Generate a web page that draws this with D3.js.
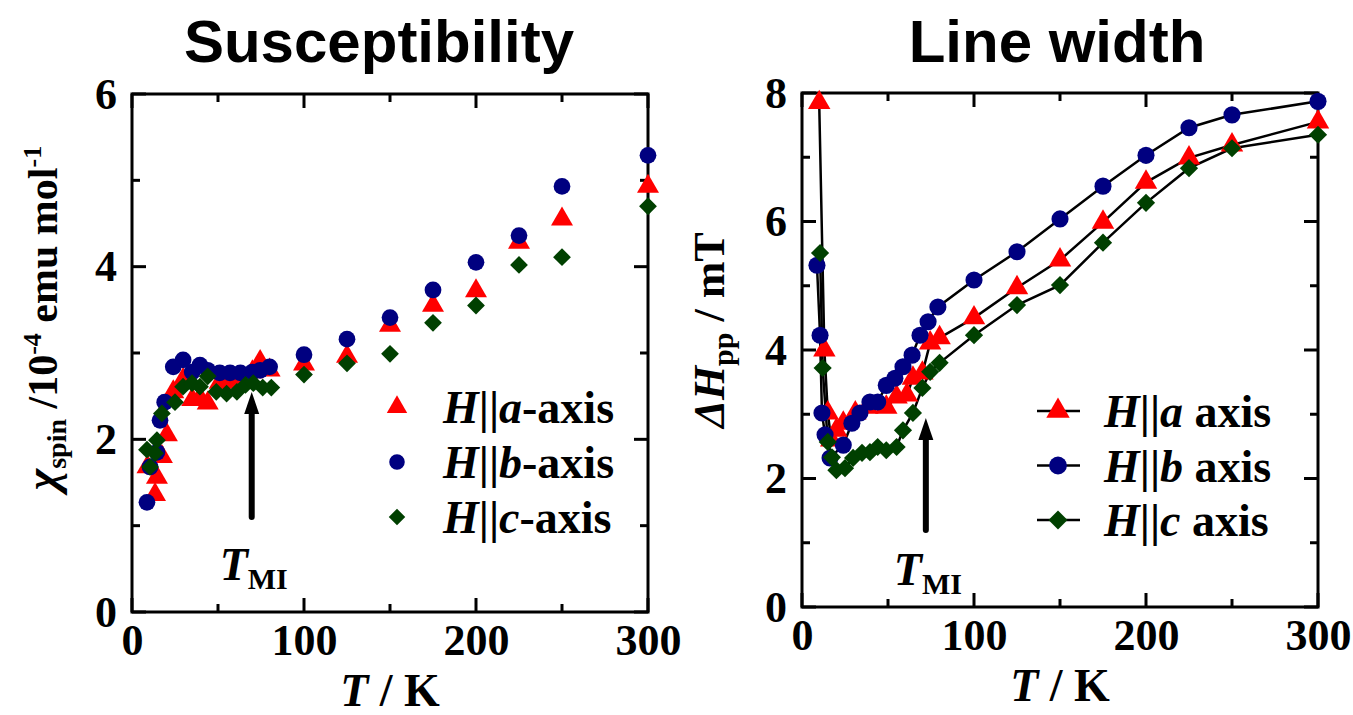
<!DOCTYPE html>
<html>
<head>
<meta charset="utf-8">
<script src="https://cdn.jsdelivr.net/npm/d3@7"></script>
<style>
  body { margin: 0; background: #fff; }
  .serif { font-family: "Liberation Serif", "Times New Roman", serif; font-weight: bold; }
  .sans { font-family: "Liberation Sans", Arial, sans-serif; font-weight: bold; }
</style>
</head>
<body>
<svg id="chart" width="1353" height="715"></svg>
<script>
// ---- data: susceptibility (T in K, chi in 1e-4 emu/mol) ----
var chiA_T = [9, 13.4, 14.5, 17.4, 20.3, 24, 29.7, 35, 39.5, 44, 51, 57, 63, 70, 74.5, 80, 100, 125, 150, 175, 200, 225, 250, 300];
var chiA   = [1.68, 1.36, 1.56, 1.80, 2.05, 2.55, 2.69, 2.46, 2.48, 2.42, 2.66, 2.66, 2.69, 2.78, 2.90, 2.80, 2.87, 2.96, 3.32, 3.55, 3.72, 4.28, 4.55, 4.93];
var chiB_T = [8.7, 10.5, 14.5, 16.3, 19, 24, 29.7, 35, 39.5, 44, 51, 57, 63, 70, 74.5, 80, 100, 125, 150, 175, 200, 225, 250, 300];
var chiB   = [1.27, 1.68, 1.85, 2.22, 2.43, 2.84, 2.92, 2.78, 2.86, 2.80, 2.77, 2.77, 2.77, 2.78, 2.80, 2.84, 2.98, 3.16, 3.41, 3.73, 4.05, 4.36, 4.93, 5.29];
var chiC_T = [8.7, 10.5, 13.4, 14.5, 17.4, 25, 29.7, 34.9, 39.5, 44, 49, 55, 61, 66, 70.5, 76, 81, 100, 125, 150, 175, 200, 225, 250, 300];
var chiC   = [1.88, 1.68, 1.84, 1.99, 2.30, 2.43, 2.61, 2.65, 2.61, 2.73, 2.55, 2.53, 2.55, 2.63, 2.65, 2.60, 2.60, 2.75, 2.88, 2.99, 3.35, 3.55, 4.02, 4.11, 4.70];

// ---- data: line width (T in K, dHpp in mT) ----
var lwA_T = [10, 13, 15, 17, 20, 24, 31, 38, 49, 55, 61, 64.5, 70, 74.5, 80, 100, 125, 150, 175, 200, 225, 250, 300];
var lwA   = [7.85, 4.0, 3.02, 2.6, 2.75, 2.86, 3.02, 3.11, 3.11, 3.27, 3.30, 3.56, 3.64, 4.11, 4.19, 4.50, 4.97, 5.40, 5.99, 6.61, 6.99, 7.19, 7.55];
var lwB_T = [8.7, 10.5, 11.6, 13.4, 16.3, 24, 29, 33.7, 39.5, 44, 49, 54, 58.7, 64, 68.6, 73.3, 79, 100, 125, 150, 175, 200, 225, 250, 300];
var lwB   = [5.32, 4.23, 3.02, 2.68, 2.32, 2.52, 2.86, 3.02, 3.19, 3.19, 3.45, 3.56, 3.74, 3.92, 4.23, 4.44, 4.67, 5.09, 5.53, 6.04, 6.55, 7.03, 7.46, 7.66, 7.87];
var lwC_T = [10.5, 12, 15, 17.4, 20, 25, 29.7, 34.9, 39.5, 44, 49, 55, 58.7, 64.5, 70, 74.5, 80, 100, 125, 150, 175, 200, 225, 250, 300];
var lwC   = [5.51, 3.72, 2.57, 2.33, 2.13, 2.16, 2.32, 2.40, 2.41, 2.49, 2.44, 2.49, 2.75, 3.02, 3.41, 3.66, 3.80, 4.23, 4.70, 5.01, 5.67, 6.29, 6.83, 7.14, 7.35];

var xTicks = [0, 100, 200, 300];
var xMinor = [50, 150, 250];
var chiTicks = [0, 2, 4, 6];
var chiMinor = [1, 3, 5];
var lwTicks = [0, 2, 4, 6, 8];
var lwMinor = [1, 3, 5, 7];

var legendA = ["a", "b", "c"];
var colors = ["#ff0000", "#000080", "#004000"];
var T_MI_chi = 69.6, T_MI_lw = 72;

var svg = d3.select("#chart");

function zip(xs, ys) { return xs.map(function(t, i) { return [t, ys[i]]; }); }

// marker shapes: triangle, circle, square turned 45 deg
function markerPath(k, s) {
  if (k === 0) return d3.symbol().type(d3.symbolTriangle).size(s * 0.95)();
  if (k === 1) return d3.symbol().type(d3.symbolCircle).size(s)();
  return d3.symbol().type(d3.symbolSquare).size(s * 0.72)();
}

function frame(g, x, y, yMajor, yMinorV, w, h) {
  var big = 14, small = 8;
  // labels from the d3 axes
  g.append("g").attr("transform", "translate(0," + h + ")")
    .call(d3.axisBottom(x).tickValues(xTicks).tickSize(0).tickPadding(12).tickFormat(d3.format("d")));
  g.append("g")
    .call(d3.axisLeft(y).tickValues(yMajor).tickSize(0).tickPadding(15).tickFormat(d3.format("d")));
  g.selectAll(".domain").remove();
  g.selectAll(".tick text").attr("class", "serif").attr("font-size", 44).attr("fill", "#000");

  // inward tick marks on all four sides
  var xt = xTicks.map(function(v) { return [v, big]; }).concat(xMinor.map(function(v) { return [v, small]; }));
  var yt = yMajor.map(function(v) { return [v, big]; }).concat(yMinorV.map(function(v) { return [v, small]; }));
  var tk = g.append("g");
  [0, h].forEach(function(edge) {
    tk.append("g").selectAll("line").data(xt).enter().append("line")
      .attr("stroke", "#000").attr("stroke-width", 3)
      .attr("x1", function(d) { return x(d[0]); }).attr("x2", function(d) { return x(d[0]); })
      .attr("y1", edge).attr("y2", function(d) { return edge === 0 ? d[1] : h - d[1]; });
  });
  [0, w].forEach(function(edge) {
    tk.append("g").selectAll("line").data(yt).enter().append("line")
      .attr("stroke", "#000").attr("stroke-width", 3)
      .attr("y1", function(d) { return y(d[0]); }).attr("y2", function(d) { return y(d[0]); })
      .attr("x1", edge).attr("x2", function(d) { return edge === 0 ? d[1] : w - d[1]; });
  });

  g.append("rect").attr("width", w).attr("height", h)
    .attr("fill", "none").attr("stroke", "#000").attr("stroke-width", 3);
}

function arrow(g, xp, yTop, yBot, labY) {
  g.append("line").attr("x1", xp).attr("x2", xp).attr("y1", yTop + 16).attr("y2", yBot)
    .attr("stroke", "#000").attr("stroke-width", 6).attr("stroke-linecap", "round");
  g.append("path")
    .attr("d", "M" + (xp - 7.5) + "," + (yTop + 22) + "L" + xp + "," + yTop + "L" + (xp + 7.5) + "," + (yTop + 22) + "Z")
    .attr("fill", "#000");
  var lab = g.append("text").attr("class", "serif").attr("x", xp + 2).attr("y", labY)
    .attr("text-anchor", "middle").attr("font-size", 46);
  lab.append("tspan").attr("font-style", "italic").text("T");
  lab.append("tspan").attr("font-size", 30).attr("dy", 9).text("MI");
}

function xlabel(g, w, h) {
  var t = g.append("text").attr("class", "serif").attr("x", w / 2).attr("y", h + 94)
    .attr("text-anchor", "middle").attr("font-size", 46);
  t.append("tspan").attr("font-style", "italic").text("T");
  t.append("tspan").text(" / K");
}

function legendText(sel, sep) {
  var t = sel.append("text").attr("class", "serif").attr("x", 46).attr("y", 16).attr("font-size", 46);
  t.append("tspan").attr("font-style", "italic").text("H");
  t.append("tspan").text("||");
  t.append("tspan").attr("font-style", "italic").text(function(d) { return d; });
  t.append("tspan").text(sep + "axis");
}

// ================= Left panel: Susceptibility =================
var L = { left: 132, top: 94, w: 516, h: 518 };
var gL = svg.append("g").attr("transform", "translate(" + L.left + "," + L.top + ")");
var xL = d3.scaleLinear().domain([0, 300]).range([0, L.w]);
var yL = d3.scaleLinear().domain([0, 6]).range([L.h, 0]);

frame(gL, xL, yL, chiTicks, chiMinor, L.w, L.h);

var chiSeries = [zip(chiA_T, chiA), zip(chiB_T, chiB), zip(chiC_T, chiC)];
chiSeries.forEach(function(s, k) {
  gL.append("g").selectAll("path").data(s).enter().append("path")
    .attr("d", markerPath(k, 220))
    .attr("transform", function(d) {
      return "translate(" + xL(d[0]) + "," + yL(d[1]) + ")" + (k === 2 ? " rotate(45)" : "");
    })
    .attr("fill", colors[k]);
});

arrow(gL, xL(T_MI_chi), 298, 423, 486);

svg.append("text").attr("class", "sans").attr("x", 379).attr("y", 62)
  .attr("text-anchor", "middle").attr("font-size", 60).text("Susceptibility");

xlabel(gL, L.w, L.h);

var yl = svg.append("text").attr("class", "serif").attr("font-size", 42)
  .attr("text-anchor", "middle").attr("transform", "translate(57,318) rotate(-90)");
yl.append("tspan").attr("font-style", "italic").attr("font-size", 46).text("χ");
yl.append("tspan").attr("font-size", 28).attr("dy", 9).text("spin");
yl.append("tspan").attr("dy", -9).text(" /10");
yl.append("tspan").attr("font-size", 26).attr("dy", -16).text("-4");
yl.append("tspan").attr("dy", 16).text(" emu mol");
yl.append("tspan").attr("font-size", 26).attr("dy", -16).text("-1");

// legend left
var legL = gL.append("g").selectAll("g").data(legendA).enter().append("g")
  .attr("transform", function(d, i) { return "translate(265," + (313 + i * 55) + ")"; });
legL.append("path")
  .attr("d", function(d, i) { return markerPath(i, 190); })
  .attr("transform", function(d, i) { return i === 2 ? "rotate(45)" : null; })
  .attr("fill", function(d, i) { return colors[i]; });
legendText(legL, "-");

// ================= Right panel: Line width =================
var R = { left: 802, top: 93, w: 516, h: 514 };
var gR = svg.append("g").attr("transform", "translate(" + R.left + "," + R.top + ")");
var xR = d3.scaleLinear().domain([0, 300]).range([0, R.w]);
var yR = d3.scaleLinear().domain([0, 8]).range([R.h, 0]);

var lwSeries = [zip(lwA_T, lwA), zip(lwB_T, lwB), zip(lwC_T, lwC)];
var line = d3.line().x(function(d) { return xR(d[0]); }).y(function(d) { return yR(d[1]); });

frame(gR, xR, yR, lwTicks, lwMinor, R.w, R.h);

lwSeries.forEach(function(s) {
  gR.append("path").datum(s).attr("d", line)
    .attr("fill", "none").attr("stroke", "#000").attr("stroke-width", 2.5);
});
lwSeries.forEach(function(s, k) {
  gR.append("g").selectAll("path").data(s).enter().append("path")
    .attr("d", markerPath(k, 230))
    .attr("transform", function(d) {
      return "translate(" + xR(d[0]) + "," + yR(d[1]) + ")" + (k === 2 ? " rotate(45)" : "");
    })
    .attr("fill", colors[k]);
});

arrow(gR, xR(T_MI_lw), 325, 437, 492);

svg.append("text").attr("class", "sans").attr("x", 1057).attr("y", 62)
  .attr("text-anchor", "middle").attr("font-size", 60).text("Line width");

xlabel(gR, R.w, R.h);

var yr = svg.append("text").attr("class", "serif").attr("font-size", 44)
  .attr("text-anchor", "middle").attr("transform", "translate(724,330) rotate(-90)");
yr.append("tspan").attr("font-style", "italic").text("ΔH");
yr.append("tspan").attr("font-size", 30).attr("dy", 9).text("pp");
yr.append("tspan").attr("dy", -9).text(" / mT");

// legend right
var legR = gR.append("g").selectAll("g").data(legendA).enter().append("g")
  .attr("transform", function(d, i) { return "translate(256," + (318 + i * 54.5) + ")"; });
legR.append("line").attr("x1", -21).attr("x2", 22).attr("stroke", "#000").attr("stroke-width", 2.5);
legR.append("path")
  .attr("d", function(d, i) { return markerPath(i, 250); })
  .attr("transform", function(d, i) { return i === 2 ? "rotate(45)" : null; })
  .attr("fill", function(d, i) { return colors[i]; });
legendText(legR, " ");
</script>
</body>
</html>
